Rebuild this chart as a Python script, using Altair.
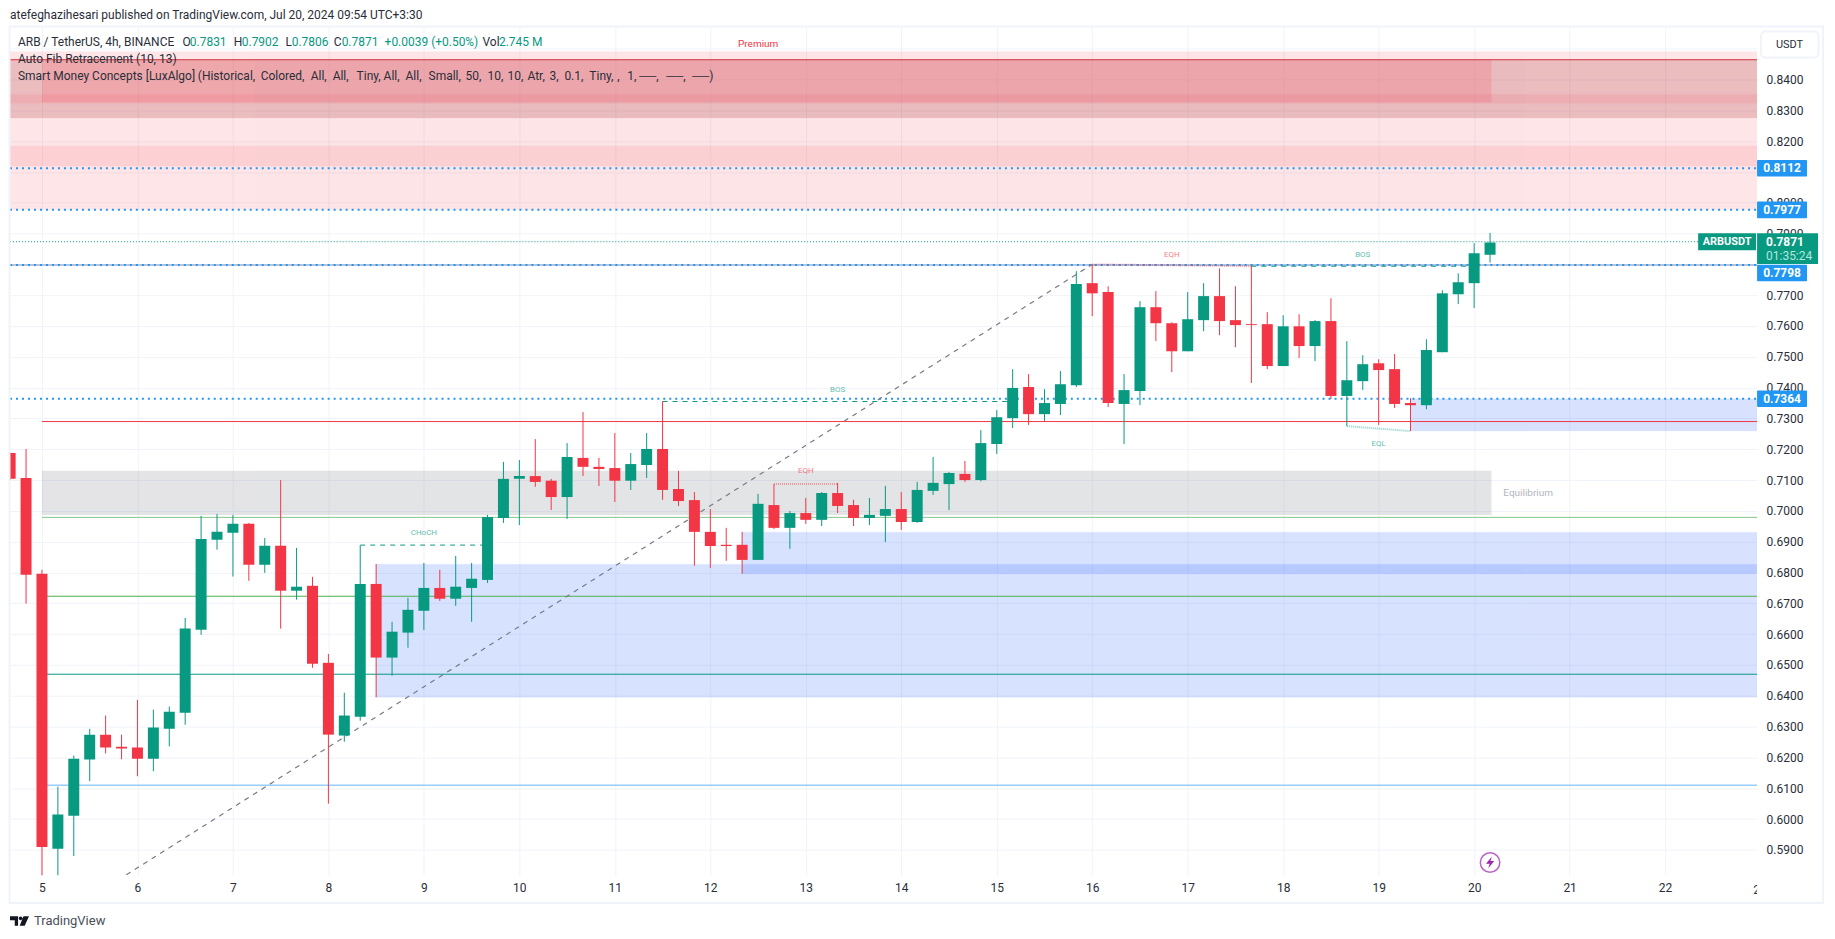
import altair as alt
import pandas as pd

bars = list(range(-2, 92))
opens = [.7188,.7107,.6796,.5904,.6011,.6193,.6274,.6235,.6232,.6196,.6293,.6345,.6614,.6906,.6929,.6958,.6825,.6887,.6741,.6757,
         .6507,.6271,.6332,.6763,.6524,.6605,.6676,.6750,.6715,.6750,.6776,.6977,.7104,.7113,.7098,.7045,.7172,.7143,.7139,.7098,
         .7149,.7201,.7071,.7035,.6932,.6890,.6890,.6841,.7019,.6945,.6993,.6971,.7058,.7019,.6977,.6984,.7006,.6964,.7065,.7087,
         .7120,.7100,.7217,.7301,.7402,.7314,.7347,.7408,.7739,.7710,.7347,.7389,.7661,.7609,.7518,.7619,.7697,.7619,.7606,.7606,
         .7470,.7599,.7535,.7616,.7373,.7421,.7479,.7460,.7350,.7343,.7515,.7703,.7739,.7831]
closes = [.7104,.6793,.5909,.6015,.6196,.6274,.6232,.6229,.6196,.6297,.6348,.6618,.6909,.6932,.6958,.6825,.6887,.6741,.6754,.6504,
          .6274,.6336,.6763,.6524,.6608,.6679,.6750,.6715,.6754,.6780,.6980,.7104,.7113,.7094,.7045,.7175,.7143,.7136,.7098,.7152,
          .7201,.7068,.7032,.6932,.6886,.6886,.6841,.7023,.6945,.6993,.6971,.7058,.7016,.6977,.6987,.7006,.6964,.7068,.7091,.7123,
          .7100,.7220,.7304,.7399,.7314,.7350,.7411,.7736,.7706,.7350,.7392,.7661,.7609,.7518,.7622,.7697,.7616,.7603,.7603,.7470,
          .7599,.7535,.7616,.7373,.7424,.7476,.7457,.7347,.7343,.7522,.7706,.7742,.7836,.7871]
highs = [.7190,.7201,.6809,.6105,.6206,.6293,.6336,.6274,.6387,.6355,.6365,.6653,.6984,.6990,.6987,.6961,.6912,.7100,.6880,.6786,
         .6536,.6410,.6889,.6828,.6640,.6718,.6831,.6809,.6854,.6831,.6987,.7159,.7165,.7233,.7104,.7220,.7321,.7172,.7253,.7188,
         .7253,.7356,.7130,.7061,.7006,.6945,.6932,.7055,.7087,.7000,.7042,.7061,.7091,.7036,.7042,.7081,.7061,.7094,.7175,.7126,
         .7162,.7262,.7327,.7460,.7444,.7395,.7454,.7778,.7800,.7729,.7444,.7681,.7713,.7612,.7710,.7739,.7787,.7729,.7794,.7645,
         .7635,.7638,.7619,.7690,.7551,.7505,.7492,.7509,.7366,.7557,.7716,.7771,.7869,.7902]
lows = [.7100,.6699,.5817,.5817,.5880,.6123,.6213,.6194,.6139,.6155,.6236,.6306,.6598,.6874,.6787,.6773,.6799,.6618,.6712,.6491,
        .6050,.6251,.6319,.6395,.6465,.6556,.6614,.6708,.6692,.6640,.6766,.6961,.6954,.7078,.7003,.6974,.7113,.7081,.7029,.7068,
        .7107,.7036,.7016,.6822,.6815,.6838,.6796,.6841,.6941,.6877,.6958,.6951,.6993,.6951,.6954,.6899,.6938,.6961,.7052,.7003,
        .7094,.7096,.7185,.7269,.7279,.7292,.7311,.7402,.7632,.7337,.7217,.7343,.7551,.7450,.7518,.7583,.7570,.7531,.7415,.7460,
        .7470,.7496,.7486,.7363,.7275,.7392,.7279,.7334,.7259,.7330,.7515,.7671,.7658,.7806]

day_ticks = list(range(0, 108, 6))
price_ticks = [round(.59 + k * .01, 2) for k in range(0, 27)]
UP, DOWN = "#089981", "#f23645"
X0, X1 = -2.009, 107.78
Y0, Y1 = .58167, .85687
FONT = "Roboto"
W, H = 1749, 849
PX0, PY0 = 10, 27

xs = alt.Scale(domain=[X0, X1], nice=False, zero=False, padding=0)
ys = alt.Scale(domain=[Y0, Y1], nice=False, zero=False, padding=0)
AX = alt.Axis(values=day_ticks, labelExpr="datum.value/6+5", grid=True, gridColor="#f0f3fa", gridWidth=1,
              domain=False, ticks=False, labelPadding=7, labelFont=FONT, labelFontSize=12, title=None,
              labelColor="#2a2e39", labelOverlap=False, labelFlush=False, orient="bottom")
AY = alt.Axis(values=price_ticks,
              labelExpr="(datum.value>0.845||abs(datum.value-0.81)<0.001||abs(datum.value-0.78)<0.001)?'':format(datum.value,'.4f')",
              grid=True, gridColor="#f0f3fa", gridWidth=1, domain=False, ticks=False, labelPadding=9, labelFont=FONT, title=None,
              labelFontSize=12, labelColor="#2a2e39", labelOverlap=False, labelFlush=False, orient="right")
X = alt.X("a:Q", scale=xs, axis=AX)
X2 = alt.X2("b:Q")
Y = alt.Y("p:Q", scale=ys, axis=AY)
Y2 = alt.Y2("q:Q")

layers = []

# zones: x from, x to, top, bottom, colour, opacity, stroke opacity
zones = [
    (X0, X1, .8491, .7977, "#f23645", .13, .12),
    (X0, X1, .8185, .8118, "#f23645", .11, .12),
    (X0, X1, .8464, .8275, "#991118", .19, .2),
    (X0, X1, .8352, .8322, "#f23645", .10, 0),
    (0, 91.09, .8464, .8326, "#ff4050", .16, 0),
    (0, 91.09, .7130, .6987, "#787b86", .20, 0),
    (21, X1, .6827, .6395, "#2962ff", .18, .2),
    (44, X1, .6931, .6796, "#2962ff", .18, .2),
    (86, X1, .7364, .7259, "#2962ff", .18, .2),
]
for a, b, p, q, c, o, s in zones:
    layers.append(
        alt.Chart(pd.DataFrame({"a": [a], "b": [b], "p": [p], "q": [q]}))
        .mark_rect(color=c, opacity=o, stroke=c, strokeOpacity=s, strokeWidth=1, clip=True)
        .encode(x=X, x2=X2, y=Y, y2=Y2)
    )

# horizontal levels: from, to, price, colour, width, dash
levels = [
    (X0, X1, .8464, "#d0343e", 1, None),
    (0, X1, .7290, "#f23645", 1, None),
    (0, X1, .6979, "#81c784", 1, None),
    (0, X1, .6723, "#4caf50", 1, None),
    (0, X1, .6470, "#089981", 1, None),
    (0, X1, .6110, "#64b5f6", 1, None),
    (X0, X1, .7798, "#7f8fb5", 1, None),
    (X0, X1, .8112, "#2196f3", 2, [2, 4]),
    (X0, X1, .7977, "#2196f3", 2, [2, 4]),
    (X0, X1, .7798, "#2196f3", 2, [2, 4]),
    (X0, X1, .7364, "#2196f3", 2, [2, 4]),
    (X0, 104.2, .78735, "#089981", 1, [1, 2]),
]
for a, b, p, c, w, d in levels:
    kw = {"strokeDash": d} if d else {}
    layers.append(
        alt.Chart(pd.DataFrame({"a": [a], "b": [b], "p": [p]}))
        .mark_rule(color=c, strokeWidth=w, clip=True, **kw)
        .encode(x=X, x2=X2, y=Y)
    )

# structure segments: x1, x2, p1, p2, colour, opacity, width, dash
segments = [
    (5.3, 66, .5819, .7800, "#787b86", 1, 1.2, [5, 5]),
    (39, 61, .7355, .7355, UP, 1, 1, [5, 5]),
    (20, 28, .6889, .6889, UP, 1, 1, [5, 5]),
    (46, 50, .7087, .7087, "#f23645", .45, 2, [1, 1]),
    (66, 76, .7800, .7794, "#f23645", .45, 2, [1, 1]),
    (76, 90, .7794, .7794, UP, 1, 1, [5, 5]),
    (82, 86, .7275, .7259, UP, .45, 2, [1, 1]),
]
for a, b, p, q, c, o, w, d in segments:
    layers.append(
        alt.Chart(pd.DataFrame({"a": [a], "b": [b], "p": [p], "q": [q]}))
        .mark_rule(color=c, opacity=o, strokeWidth=w, strokeDash=d)
        .encode(x=X, x2=X2, y=Y, y2=Y2)
    )

# labels in data space
labels = [
    ("BOS", 50.0, .7393, UP, 8), ("CHoCH", 24, .6929, UP, 8), ("EQH", 48, .7130, "#f23645", 8),
    ("EQH", 71, .7831, "#f23645", 8), ("BOS", 83, .7831, UP, 8), ("EQL", 84, .7218, UP, 8),
]
for t, a, p, c, s in labels:
    layers.append(
        alt.Chart(pd.DataFrame({"a": [a], "p": [p], "t": [t]}))
        .mark_text(color=c, opacity=.65, font=FONT, fontSize=s, baseline="middle")
        .encode(x=X, y=Y, text="t:N")
    )

# candles
candles = pd.DataFrame({"a": bars, "o": opens, "c": closes, "h": highs, "l": lows})
candles["dir"] = ["up" if c >= o else "down" for o, c in zip(opens, closes)]
cs = alt.Color("dir:N", scale=alt.Scale(domain=["up", "down"], range=[UP, DOWN]), legend=None)
layers.append(
    alt.Chart(candles).mark_rule(strokeWidth=1, clip=True).encode(
        x=X, y=alt.Y("h:Q", scale=ys, axis=AY), y2=alt.Y2("l:Q"), color=cs)
)
layers.append(
    alt.Chart(candles).mark_bar(size=11, clip=True).encode(
        x=X, y=alt.Y("o:Q", scale=ys, axis=AY), y2=alt.Y2("c:Q"), color=cs)
)


def px_text(t, x, y, color="#2a2e39", size=12, align="left", weight="normal", opacity=1):
    return alt.Chart(pd.DataFrame({"t": [t]})).mark_text(
        color=color, fontSize=size, font=FONT, align=align, baseline="middle", fontWeight=weight, opacity=opacity
    ).encode(x=alt.value(x - PX0), y=alt.value(y - PY0), text="t:N")


def px_rect(x0, x1, y0, y1, fill, **kw):
    return alt.Chart(pd.DataFrame({"t": [0]})).mark_rect(fill=fill, **kw).encode(
        x=alt.value(x0 - PX0), x2=alt.value(x1 - PX0), y=alt.value(y0 - PY0), y2=alt.value(y1 - PY0))


# clipped "23" tick
layers.append(px_text("23", 1762, 890, align="center"))
layers.append(px_rect(1759, 1773, 880, 900, "#ffffff"))

# frame
layers.append(px_rect(9.5, 1825, 26, 903.5, "transparent", stroke="#f0f3fa", strokeWidth=2))

# price tags
tag_labels = ["0.8112", "0.7977", "0.7798", "0.7364"]
tag_centres = [.8112, .7977, .7772, .7364]
for t, c in zip(tag_labels, tag_centres):
    layers.append(
        alt.Chart(pd.DataFrame({"p": [c + .0027], "q": [c - .0027]}))
        .mark_rect(fill="#2196f3", cornerRadius=1)
        .encode(x=alt.value(1759 - PX0), x2=alt.value(1809 - PX0), y=Y, y2=Y2)
    )
    layers.append(
        alt.Chart(pd.DataFrame({"p": [c], "t": [t]}))
        .mark_text(color="#ffffff", font=FONT, fontSize=12, fontWeight="bold", baseline="middle", align="center")
        .encode(x=alt.value(1784 - PX0), y=Y, text="t:N")
    )

layers.append(px_rect(1759, 1820, 233, 263.7, UP))
layers.append(px_text("0.7871", 1768, 241.7, color="#ffffff", weight="bold"))
layers.append(px_text("01:35:24", 1768, 255.7, color="#b5e5da"))
layers.append(px_rect(1700, 1758, 233, 250, UP))
layers.append(px_text("ARBUSDT", 1729, 241.7, color="#ffffff", align="center", weight="bold", size=11))
layers.append(px_rect(1763, 1820.5, 31, 57, "#ffffff", stroke="#f0f3fa", strokeWidth=2, cornerRadius=4))
layers.append(px_text("USDT", 1791.5, 44.5, align="center", size=11))

# header + legend + annotations
layers.append(px_text("atefeghazihesari published on TradingView.com, Jul 20, 2024 09:54 UTC+3:30", 10, 15, size=12))
legend_parts = [
    ("ARB / TetherUS, 4h, BINANCE", 18, "#2a2e39"), ("O", 182.6, "#2a2e39"), ("0.7831", 190, UP),
    ("H", 234, "#2a2e39"), ("0.7902", 242, UP), ("L", 285.7, "#2a2e39"), ("0.7806", 292, UP),
    ("C", 334, "#2a2e39"), ("0.7871", 342, UP), ("+0.0039 (+0.50%)", 385, UP),
    ("Vol", 483, "#2a2e39"), ("2.745 M", 499.5, UP),
]
for t, x, c in legend_parts:
    layers.append(px_text(t, x, 42, color=c, size=12))
layers.append(px_text("Auto Fib Retracement (10, 13)", 18, 59, size=12))
smc_words = ["Smart Money Concepts [LuxAlgo]", "(Historical,", "Colored,", "All,", "All,", "Tiny,", "All,", "All,", "Small,",
             "50,", "10,", "10,", "Atr,", "3,", "0.1,", "Tiny,", ",", "1,", "──,", "──,", "──)"]
smc_x = [18, 198, 261, 311, 333, 357, 384, 406, 429, 466, 488, 508, 528, 550, 565, 590, 618, 628, 640, 667, 693]
for t, x in zip(smc_words, smc_x):
    layers.append(px_text(t, x, 76, size=12))
layers.append(px_text("Premium", 759, 43.5, color="#f23645", size=10, align="center"))
layers.append(px_text("Equilibrium", 1505, 492.7, color="#b2b5be", size=10))

# order-flow icon and brand mark
BOLT = "M0.25,-0.8 L-0.55,0.15 L-0.05,0.15 L-0.25,0.8 L0.55,-0.2 L0.05,-0.2 Z"
icon = pd.DataFrame({"a": [91.0], "p": [.5859]})
layers.append(alt.Chart(icon).mark_point(shape="circle", size=380, filled=False, stroke="#9c27b0", strokeWidth=1.5).encode(x=X, y=Y))
layers.append(alt.Chart(icon).mark_point(shape=BOLT, size=220, filled=True, fill="#9c27b0", stroke=None, opacity=1).encode(x=X, y=Y))

LOGO = ("M-1,-0.5 L-0.15,-0.5 L-0.15,0.5 L-0.5,0.5 L-0.5,-0.08 L-1,-0.08 Z "
        "M0.32,-0.28 A0.2,0.2 0 1 1 -0.08,-0.28 A0.2,0.2 0 1 1 0.32,-0.28 Z "
        "M0.42,-0.5 L1,-0.5 L0.55,0.5 L0.02,0.5 Z")
layers.append(alt.Chart(pd.DataFrame({"t": [0]})).mark_point(shape=LOGO, size=361, filled=True, fill="#131722", stroke=None, opacity=1)
              .encode(x=alt.value(19.5 - PX0), y=alt.value(921.5 - PY0)))
layers.append(px_text("TradingView", 34, 921.5, color="#4a4e59", size=13))

chart = (
    alt.layer(*layers)
    .properties(width=W, height=H, padding={"left": 2, "top": 19, "right": 70, "bottom": 52},
                autosize=alt.AutoSizeParams(type="none"), background="#ffffff")
    .configure_view(stroke=None)
)
chart.save("out.html", embed_options={"renderer": "svg", "actions": False})
